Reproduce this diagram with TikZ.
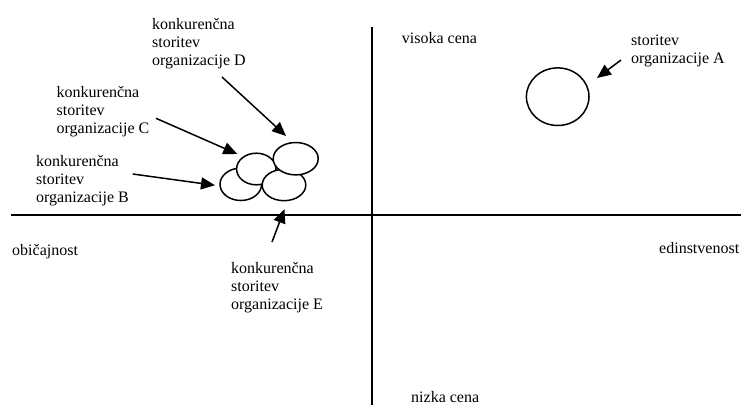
\documentclass[tikz,border=0pt]{standalone}
\usepackage{fontspec}
\setmainfont{Liberation Serif}
\usetikzlibrary{shapes.geometric, arrows.meta}

\begin{document}
\begin{tikzpicture}[x=1pt, y=-1pt,
  every node/.style={font=\fontsize{16}{18}\selectfont, inner sep=0pt},
  lab/.style={anchor=north west, align=left},
  word/.style={anchor=base west},
  svc/.style={draw, ellipse, fill=white, line width=1.5pt},
  pointer/.style={line width=1.5pt, -{Triangle[length=14pt, width=12pt]}},
  axis/.style={line width=2pt}]
\useasboundingbox (0,0) rectangle (741,405);

% axes
\coordinate (west) at (11,215);
\coordinate (east) at (741,215);
\coordinate (north) at (372,27);
\coordinate (south) at (372,405);
\draw[axis] (west) -- (east);
\draw[axis] (north) -- (south);

\node[word] (high) at (401.7,43) {visoka cena};
\node[word] (low) at (411,402) {nizka cena};
\node[word] (common) at (12,255) {običajnost};
\node[word] (unique) at (659,253) {edinstvenost};

% services
\node[svc, minimum width=62.6, minimum height=57.6] (svcA) at (557.7,96.7) {};
\node[svc, minimum width=41.6, minimum height=32.4] (svcB) at (240.8,184.3) {};
\node[svc, minimum width=39.4, minimum height=31.6] (svcC) at (256.3,169) {};
\node[svc, minimum width=43.6, minimum height=31.4] (svcE) at (284,185) {};
\node[svc, minimum width=45, minimum height=32.4] (svcD) at (295.7,158.7) {};

% labels
\node[lab] (labA) at (631,35.1) {storitev\\organizacije A};
\node[lab] (labD) at (152,18.1) {konkurenčna\\storitev\\organizacije D};
\node[lab] (labC) at (56.5,86.6) {konkurenčna\\storitev\\organizacije C};
\node[lab] (labB) at (36,155.6) {konkurenčna\\storitev\\organizacije B};
\node[lab] (labE) at (231,262.1) {konkurenčna\\storitev\\organizacije E};

% arrows
\coordinate (fromA) at (621,60);   \coordinate (toA) at (597,78);
\coordinate (fromD) at (222,77);   \coordinate (toD) at (286,136);
\coordinate (fromC) at (156,118.3); \coordinate (toC) at (237.3,154);
\coordinate (fromB) at (132.7,174); \coordinate (toB) at (215,185.3);
\coordinate (fromE) at (272,242);  \coordinate (toE) at (284.5,209);
\draw[pointer] (fromA) -- (toA);
\draw[pointer] (fromD) -- (toD);
\draw[pointer] (fromC) -- (toC);
\draw[pointer] (fromB) -- (toB);
\draw[pointer] (fromE) -- (toE);
\end{tikzpicture}
\end{document}
